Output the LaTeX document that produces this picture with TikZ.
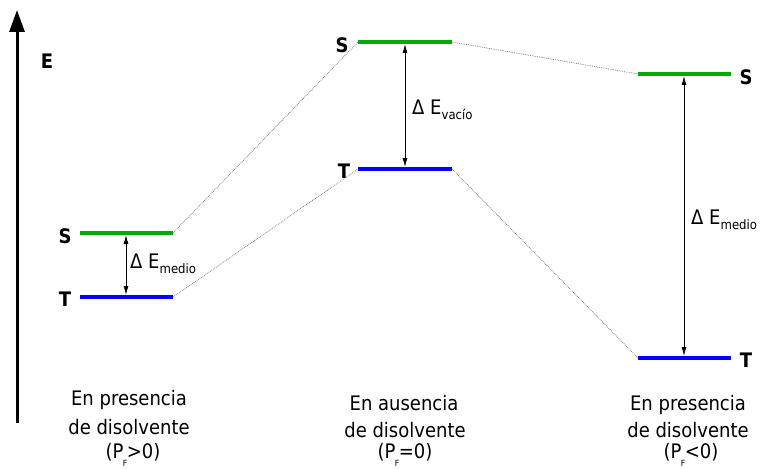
\documentclass[tikz,border=0pt]{standalone}
\usepackage{fontspec}
\setmainfont{DejaVu Sans}[FakeStretch=0.9]
\usetikzlibrary{arrows.meta}
\definecolor{lvlgreen}{RGB}{0,170,0}
\definecolor{lvlblue}{RGB}{0,0,255}
\definecolor{dotgray}{RGB}{130,130,130}
\newcommand{\sub}[1]{\raisebox{-0.45ex}{\fontsize{13}{13}\selectfont #1}}
\newcommand{\pf}{P\kern-0.5pt\raisebox{-8.5pt}{\fontsize{8.5}{8.5}\selectfont F}\kern-0.5pt}
\begin{document}
\begin{tikzpicture}[x=1pt,y=-1pt,
  slevel/.style={line width=4pt, draw=lvlgreen},
  tlevel/.style={line width=4pt, draw=lvlblue},
  corr/.style={dotgray, densely dotted, line width=0.8pt},
  gap/.style={{Latex[length=9pt,width=5pt]}-{Latex[length=9pt,width=5pt]}, line width=0.8pt},
  lvllabel/.style={font=\fontsize{20}{24}\selectfont\bfseries, inner sep=0pt},
  dlabel/.style={font=\fontsize{20}{24}\selectfont, inner sep=0pt, anchor=west},
  caption/.style={font=\fontsize{20}{24}\selectfont, anchor=base, inner sep=0pt}]
\useasboundingbox (0,0) rectangle (762,468);
% axis
\coordinate (axb) at (17,423);
\coordinate (axt) at (17,10);
\draw[line width=3pt, -{Triangle[length=22pt,width=15pt]}] (axb) -- (axt);
\node[lvllabel] (E) at (47,61) {E};
% levels
\coordinate (lSa) at (80,233);  \coordinate (lSb) at (173,233);
\coordinate (lTa) at (80,297);  \coordinate (lTb) at (173,297);
\coordinate (mSa) at (358,42);  \coordinate (mSb) at (452,42);
\coordinate (mTa) at (358,169); \coordinate (mTb) at (452,169);
\coordinate (rSa) at (638,74);  \coordinate (rSb) at (731,74);
\coordinate (rTa) at (638,358); \coordinate (rTb) at (731,358);
% correlation lines
\draw[corr] (lSb) -- (mSa);
\draw[corr] (lTb) -- (mTa);
\draw[corr] (mSb) -- (rSa);
\draw[corr] (mTb) -- (rTa);
\draw[slevel] (lSa) -- (lSb);
\draw[tlevel] (lTa) -- (lTb);
\draw[slevel] (mSa) -- (mSb);
\draw[tlevel] (mTa) -- (mTb);
\draw[slevel] (rSa) -- (rSb);
\draw[tlevel] (rTa) -- (rTb);
% level labels
\node[lvllabel] (lS) at (65,236) {S};
\node[lvllabel] (lT) at (65,299) {T};
\node[lvllabel] (mS) at (342,45) {S};
\node[lvllabel] (mT) at (344,171) {T};
\node[lvllabel] (rS) at (746,77) {S};
\node[lvllabel] (rT) at (746,360) {T};
% gap arrows
\coordinate (lgS) at (126,235); \coordinate (lgT) at (126,295);
\coordinate (mgS) at (405,44);  \coordinate (mgT) at (405,167);
\coordinate (rgS) at (684,76);  \coordinate (rgT) at (684,356);
\draw[gap] (lgS) -- (lgT);
\draw[gap] (mgS) -- (mgT);
\draw[gap] (rgS) -- (rgT);
\node[dlabel] (ld) at (130,264) {Δ E\sub{medio}};
\node[dlabel] (md) at (412,110) {Δ E\sub{vacío}};
\node[dlabel] (rd) at (691,220) {Δ E\sub{medio}};
% captions
\node[caption] (lc1) at (129,405) {En presencia};
\node[caption] (lc2) at (129,434) {de disolvente};
\node[caption] (lc3) at (133,458) {(\pf>0)};
\node[caption] (mc1) at (404,410) {En ausencia};
\node[caption] (mc2) at (405,437) {de disolvente};
\node[caption] (mc3) at (405,458) {(\pf=0)};
\node[caption] (rc1) at (688,410) {En presencia};
\node[caption] (rc2) at (688,437) {de disolvente};
\node[caption] (rc3) at (691,458) {(\pf<0)};
\end{tikzpicture}
\end{document}
